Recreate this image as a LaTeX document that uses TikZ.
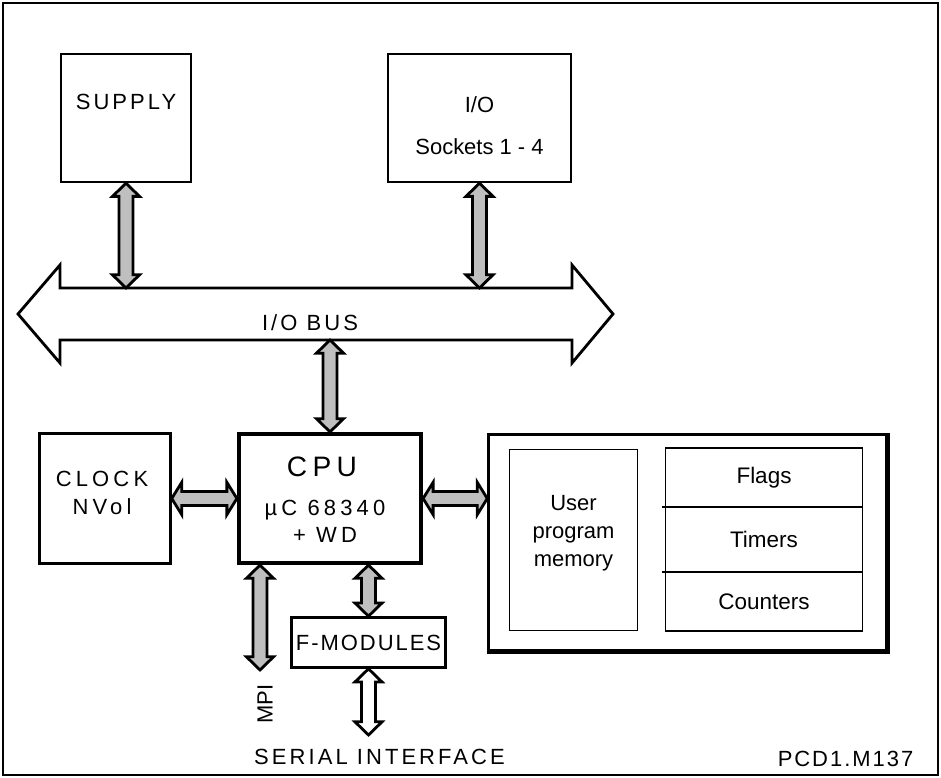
\documentclass[tikz,border=0pt]{standalone}
\usepackage{fontspec}
\setmainfont{Liberation Sans}
\newfontfamily\spacedfont[LetterSpace=14]{Liberation Sans}
\newfontfamily\narrowfont[LetterSpace=9]{Liberation Sans}
\newfontfamily\widefont[LetterSpace=19]{Liberation Sans}
\usetikzlibrary{calc,positioning}

% fat double arrows, grey unless told otherwise
\newcommand{\varrow}[3][gray!50]{%
  \draw[fatarrow, fill=#1] let \p1=#2, \p2=#3 in
    (\x1,\y1) -- (\x1+7.7pt,\y1-7.5pt) -- (\x1+4pt,\y1-7.5pt) -- (\x1+4pt,\y2+7.5pt)
    -- (\x1+7.7pt,\y2+7.5pt) -- (\x1,\y2) -- (\x1-7.7pt,\y2+7.5pt) -- (\x1-4pt,\y2+7.5pt)
    -- (\x1-4pt,\y1-7.5pt) -- (\x1-7.7pt,\y1-7.5pt) -- cycle;}
\newcommand{\harrow}[3][gray!50]{%
  \draw[fatarrow, fill=#1] let \p1=#2, \p2=#3 in
    (\x1,\y1) -- (\x1+5.7pt,\y1+9.2pt) -- (\x1+5.7pt,\y1+4pt) -- (\x2-5.7pt,\y1+4pt)
    -- (\x2-5.7pt,\y1+9.2pt) -- (\x2,\y1) -- (\x2-5.7pt,\y1-9.2pt) -- (\x2-5.7pt,\y1-4pt)
    -- (\x1+5.7pt,\y1-4pt) -- (\x1+5.7pt,\y1-9.2pt) -- cycle;}

\begin{document}
\begin{tikzpicture}[
    box/.style={draw, line width=1.4pt, inner sep=0pt},
    cell/.style={draw, line width=0.9pt, inner sep=0pt, outer sep=0pt, minimum width=3.94cm,
      font=\fontsize{12.8}{16}\selectfont},
    lbl/.style={font=\fontsize{12.5}{16}\selectfont, align=center},
    slbl/.style={font=\fontsize{12.5}{16}\selectfont\spacedfont, align=center},
    nlbl/.style={font=\fontsize{12.5}{16}\selectfont\narrowfont, align=center},
    wlbl/.style={font=\fontsize{12.5}{16}\selectfont\widefont, align=center},
    fatarrow/.style={line width=1.6pt, line join=miter}
  ]
    \useasboundingbox (0,0) rectangle (18.82,15.56);
    \draw[line width=1.3pt] (0.06,0.06) rectangle (18.76,15.5);

    % top row
    \node[box, minimum width=2.6cm, minimum height=2.56cm] (supply) at (2.52,13.2) {};
    \node[slbl] at (2.52,13.52) {SUPPLY};
    \node[box, minimum width=3.66cm, minimum height=2.56cm] (io) at (9.59,13.2) {};
    \node[lbl] at (9.59,13.46) {I/O};
    \node[lbl] at (9.59,12.62) {Sockets 1 - 4};

    % bus
    \draw[line width=1.6pt] (0.36,9.28) -- (1.2,10.26) -- (1.2,9.8) -- (11.44,9.8) -- (11.44,10.26)
        -- (12.26,9.28) -- (11.44,8.3) -- (11.44,8.76) -- (1.2,8.76) -- (1.2,8.3) -- cycle;
    \coordinate (bustop) at (6,9.8);
    \coordinate (busbot) at (6,8.76);
    \node[slbl] at (6.2,9.1) {I/O BUS};

    % middle row
    \node[draw, line width=2.4pt, inner sep=0pt, minimum width=3.64cm, minimum height=2.58cm] (cpu) at (6.6,5.59) {};
    \node[font=\fontsize{16}{19}\selectfont\widefont] at (6.44,6.22) {CPU};
    \node[wlbl, font=\fontsize{12.5}{15.3}\selectfont\widefont] at (6.5,5.13) {µC 68340\\+ WD};
    \node[box, minimum width=2.62cm, minimum height=2.6cm] (clock) at (2.1,5.59) {};
    \node[wlbl] at (2.04,5.7) {CLOCK\\NVol};

    \node[box, minimum width=7.96cm, minimum height=4.32cm] (mem) at (13.75,4.71) {};
    \draw[line width=2.6pt] (mem.north east) -- (mem.south east) -- (mem.south west);
    \node[draw, line width=0.9pt, inner sep=0pt, minimum width=2.56cm, minimum height=3.62cm] (user) at (11.47,4.76) {};
    \node[lbl] at (11.47,4.9) {User\\program\\memory};
    \node[cell, minimum height=1.3cm] (timers) at (15.28,4.77) {Timers};
    \node[cell, minimum height=1.18cm, above=0pt of timers] (flags) {Flags};
    \node[cell, minimum height=1.18cm, below=0pt of timers] (counters) {Counters};
    \draw[line width=1.5pt] ([xshift=-2pt]timers.north west) -- (timers.north east);
    \draw[line width=1.5pt] ([xshift=-2pt]timers.south west) -- (timers.south east);

    % bottom
    \node[draw, line width=1.5pt, inner sep=0pt, minimum width=3.08cm, minimum height=1.0cm, nlbl] (fmod) at (7.37,2.71) {F-MODULES};
    \coordinate (mpi) at (5.2,2.16);
    \coordinate (serial) at (7.44,0.86);
    \node[lbl, rotate=90] at (5.3,1.48) {MPI};
    \node[slbl] at (7.59,0.43) {SERIAL INTERFACE};
    \node[nlbl] at (16.91,0.38) {PCD1.M137};

    % arrows
    \varrow{(supply.south)}{(supply.south |- bustop)}
    \varrow{(io.south)}{(io.south |- bustop)}
    \varrow{(cpu.north |- busbot)}{(cpu.north)}
    \harrow{(clock.east)}{(cpu.west)}
    \harrow{(cpu.east)}{(cpu.east -| mem.west)}
    \varrow{(mpi |- cpu.south)}{(mpi)}
    \varrow{(fmod.north |- cpu.south)}{(fmod.north)}
    \varrow[white]{(fmod.south)}{(fmod.south |- serial)}
\end{tikzpicture}
\end{document}
